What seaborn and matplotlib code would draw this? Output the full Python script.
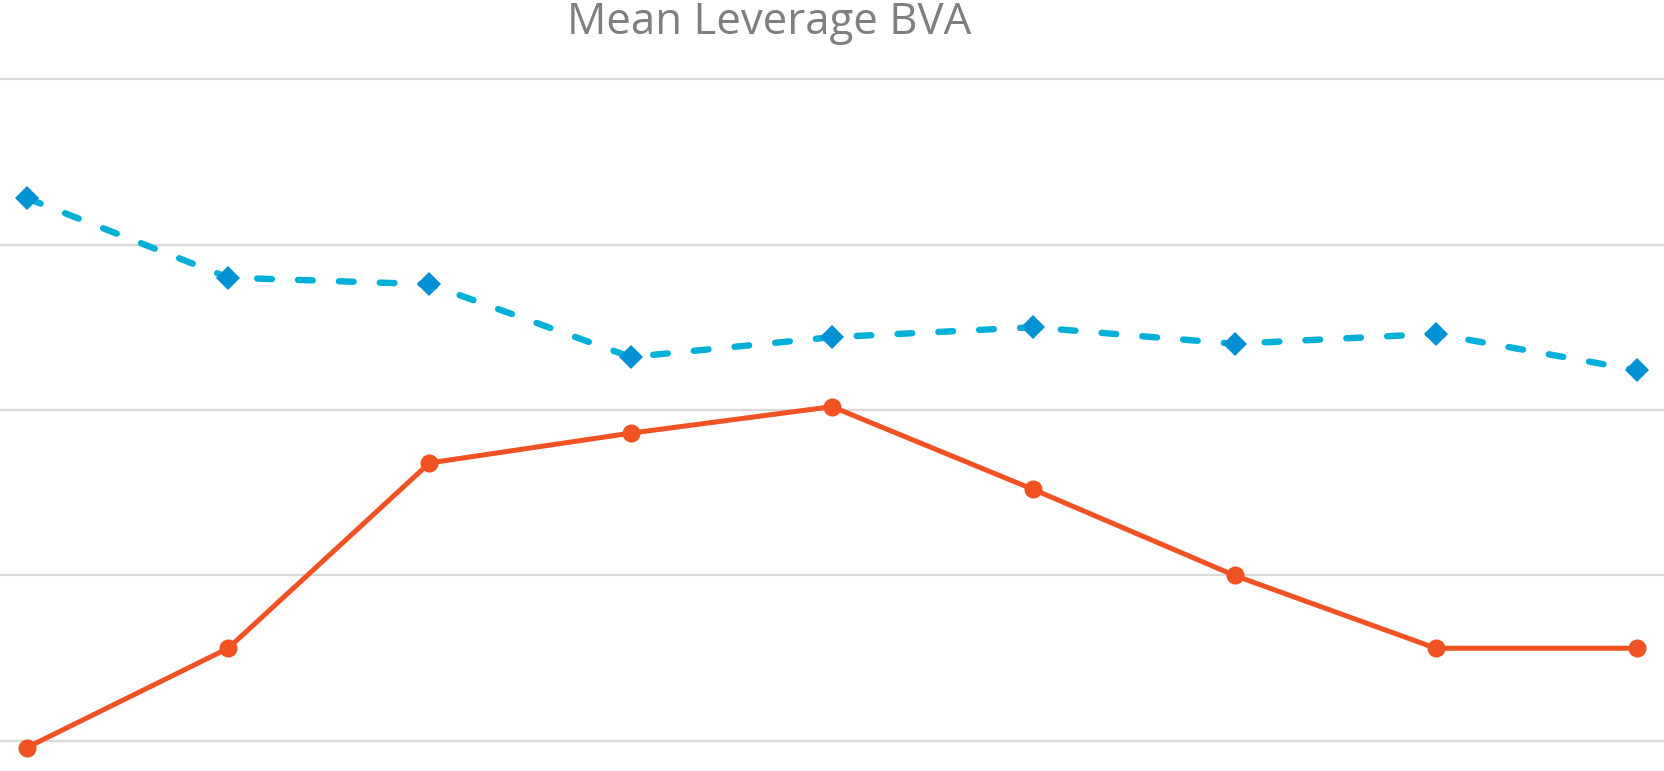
import pandas as pd
import matplotlib.pyplot as plt
import seaborn as sns

# x positions (no labels shown in the chart)
periods = [1, 2, 3, 4, 5, 6, 7, 8, 9]

# series values
series_blue = [0.364, 0.340, 0.338, 0.316, 0.322, 0.325, 0.320, 0.323, 0.312]
series_orange = [0.198, 0.228, 0.284, 0.293, 0.301, 0.276, 0.250, 0.228, 0.228]

grid_values = [0.20, 0.25, 0.30, 0.35, 0.40]

df = pd.DataFrame({'period': periods, 'blue': series_blue, 'orange': series_orange})

sns.set_style('white')
plt.rcParams['font.family'] = ['Open Sans', 'DejaVu Sans']

fig = plt.figure(figsize=(16.64, 7.71), dpi=100)
ax = fig.add_axes([0, 0, 1, 1])

sns.lineplot(data=df, x='period', y='orange', ax=ax, color='#F05223',
             linewidth=3.6, marker='o', markersize=13, markeredgewidth=0,
             markerfacecolor='#F05223', zorder=3)
sns.lineplot(data=df, x='period', y='blue', ax=ax, color='#00B0D8',
             linewidth=4.6, linestyle=(0, (2.3, 4.1)), dash_capstyle='round',
             marker='D', markersize=12, markeredgewidth=0,
             markerfacecolor='#0091D5', zorder=4)

# horizontal gridlines
ax.set_yticks(grid_values)
ax.yaxis.grid(True, color='#D9D9D9', linewidth=1.6)
ax.xaxis.grid(False)
ax.set_axisbelow(True)

ax.set_xlim(1 - 0.134, 9 + 0.134)
ax.set_ylim(0.1909, 0.4239)
ax.set_xlabel('')
ax.set_ylabel('')
ax.tick_params(left=False, bottom=False, labelleft=False, labelbottom=False)
for s in ax.spines.values():
    s.set_visible(False)

fig.text(0.462, 0.999, 'Mean Leverage BVA', ha='center', va='top',
         fontsize=31.5, color='#7F7F7F')

fig.savefig('out.png', dpi=100)
